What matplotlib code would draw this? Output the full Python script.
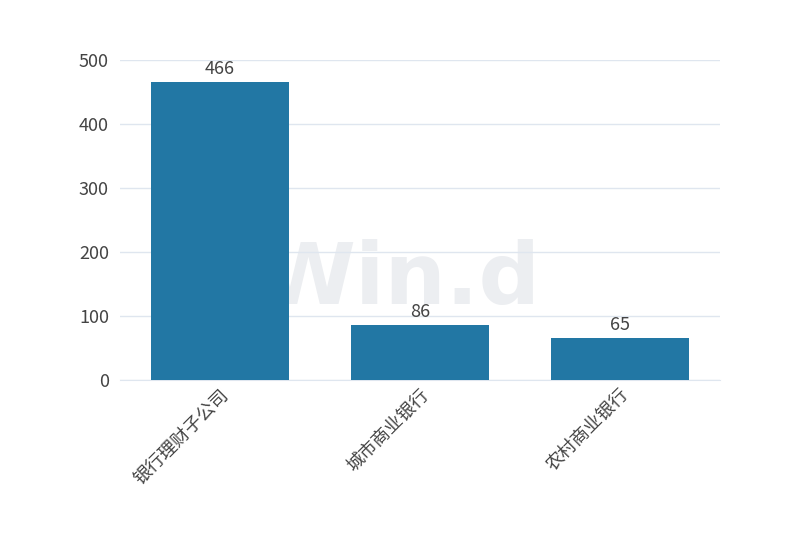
import matplotlib
matplotlib.use("Agg")
import matplotlib.pyplot as plt

plt.rcParams['font.family'] = ['Noto Sans CJK SC', 'DejaVu Sans']

categories = ["银行理财子公司", "城市商业银行", "农村商业银行"]
values = [466, 86, 65]
yticks = [0, 100, 200, 300, 400, 500]

bar_color = "#2277a4"
grid_color = "#dfe6ef"
text_color = "#444444"


def main():
    fig = plt.figure(figsize=(8, 5.6), dpi=100)
    ax = fig.add_axes([0.15, 0.3214, 0.75, 0.5716])

    x = list(range(len(categories)))
    bars = ax.bar(x, values, width=0.69, color=bar_color, zorder=3)

    for b, v in zip(bars, values):
        ax.annotate(str(v), (b.get_x() + b.get_width() / 2, v),
                    xytext=(0, 3), textcoords="offset points",
                    ha="center", va="bottom", fontsize=13, color=text_color, zorder=4)

    ax.set_xlim(-0.5, len(categories) - 0.5)
    ax.set_ylim(0, 500)
    ax.set_yticks(yticks)
    ax.set_yticklabels([str(t) for t in yticks], fontsize=13, color=text_color)
    ax.set_xticks(x)
    ax.set_xticklabels(categories, rotation=45, ha="right", rotation_mode="anchor",
                       fontsize=13, color=text_color)

    ax.grid(axis="y", color=grid_color, linewidth=1, zorder=0)
    for s in ["top", "right", "left"]:
        ax.spines[s].set_visible(False)
    ax.spines["bottom"].set_color(grid_color)
    ax.tick_params(axis="y", length=0, pad=8)
    ax.tick_params(axis="x", length=0, pad=4)

    # watermark
    ax.text(0.467, 0.31, "Win.d", transform=ax.transAxes, ha="center", va="center",
            fontsize=62, fontweight="bold", color="#eceef1", zorder=1,
            family="DejaVu Sans")

    fig.savefig("out.png", dpi=100)


if __name__ == "__main__":
    main()
